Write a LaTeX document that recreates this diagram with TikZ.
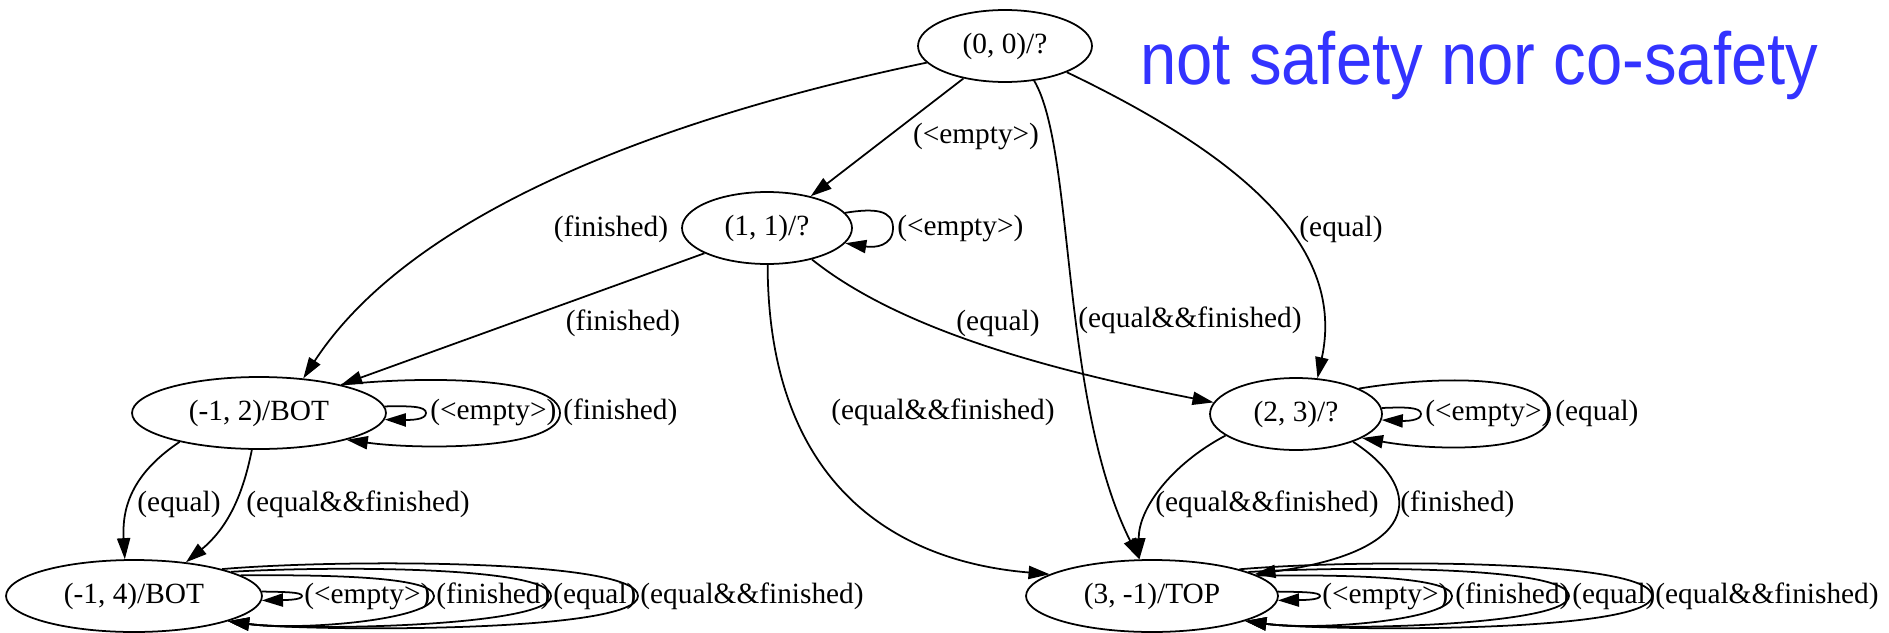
\documentclass[tikz,border=0pt]{standalone}
\usepackage{fontspec}
\setmainfont{Liberation Serif}
\newfontfamily\titlefont{Liberation Sans}
\usetikzlibrary{shapes.geometric,arrows.meta}
\definecolor{titleblue}{RGB}{51,51,255}
\newcommand\lblfont{\fontsize{16.7}{20}\selectfont}
\begin{document}
\begin{tikzpicture}[x=0.02cm,y=-0.02cm,
  state/.style={ellipse,draw,line width=1pt,inner sep=0pt,minimum height=1.44cm,font=\lblfont},
  edge/.style={line width=1pt,-{Triangle[length=12pt,width=7.5pt]}},
  lbl/.style={inner sep=0pt,font=\lblfont}]
\useasboundingbox (0,0) rectangle (1889,632);
% states
\node[state,minimum width=3.48cm] (n00) at (1005,46) {(0, 0)/?};
\node[state,minimum width=3.40cm] (n11) at (767,228) {(1, 1)/?};
\node[state,minimum width=5.08cm] (n12) at (259,413) {(-1, 2)/BOT};
\node[state,minimum width=3.44cm] (n23) at (1296,414) {(2, 3)/?};
\node[state,minimum width=5.12cm] (n14) at (134,596) {(-1, 4)/BOT};
\node[state,minimum width=5.04cm] (n31) at (1152,596) {(3, -1)/TOP};
% title
\node[anchor=base west,inner sep=0pt,text=titleblue,font=\titlefont\fontsize{42}{50}\selectfont] (title) at (1140,84) {\scalebox{0.884}[1]{not safety nor co-safety}};
% edges from (0,0)
\draw[edge] (n00.192) .. controls (700,110) and (420,200) .. (n12.38);
\node[lbl] (l1) at (611,229) {(finished)};
\draw[edge] (n00.218) -- (n11.36);
\node[lbl] (l2) at (976,136) {(<empty>)};
\draw[edge] (n00.310) .. controls (1075,150) and (1060,400) .. (n31.109);
\node[lbl,anchor=west] (l3) at (1078,320) {(equal\&\&finished)};
\draw[edge] (n00.337) .. controls (1250,160) and (1345,250) .. (n23.59);
\node[lbl] (l4) at (1341,229) {(equal)};
% edges from (1,1)
\draw[edge] (n11.11) .. controls (875,208) and (893,210) .. (893,228) .. controls (893,246) and (875,248) .. (n11.-11);
\node[lbl,anchor=west] (l5) at (897,228) {(<empty>)};
\draw[edge] (n11.202) -- (n12.19);
\node[lbl] (l6) at (623,323) {(finished)};
\draw[edge] (n11.325) .. controls (900,330) and (1050,370) .. (n23.172);
\node[lbl] (l7) at (998,323) {(equal)};
\draw[edge] (n11.271) .. controls (768,470) and (880,560) .. (n31.168);
\node[lbl] (l8) at (943,412) {(equal\&\&finished)};
% (-1,2)
\draw[edge] (n12.3) .. controls (410,406) and (426,406) .. (426,413) .. controls (426,420) and (410,420) .. (n12.-3);
\node[lbl,anchor=west] (l9) at (430,412) {(<empty>)};
\draw[edge] (n12.19) .. controls (420,376) and (560,376) .. (560,413) .. controls (560,450) and (420,450) .. (n12.-17);
\node[lbl,anchor=west] (l10) at (563,412) {(finished)};
\draw[edge] (n12.200) .. controls (130,475) and (122,510) .. (n14.104);
\node[lbl] (l11) at (179,504) {(equal)};
\draw[edge] (n12.259) .. controls (242,500) and (225,530) .. (n14.33);
\node[lbl,anchor=west] (l12) at (246,504) {(equal\&\&finished)};
% (2,3)
\draw[edge] (n23.4) .. controls (1405,407) and (1421,407) .. (1421,414) .. controls (1421,421) and (1405,421) .. (n23.-4);
\node[lbl,anchor=west] (l13) at (1425,413) {(<empty>)};
\draw[edge] (n23.22) .. controls (1440,375) and (1550,375) .. (1550,414) .. controls (1550,452) and (1440,452) .. (n23.-20);
\node[lbl,anchor=west] (l14) at (1555,413) {(equal)};
\draw[edge] (n23.197) .. controls (1170,465) and (1138,510) .. (n31.109);
\node[lbl] (l15) at (1267,504) {(equal\&\&finished)};
\draw[edge] (n23.334) .. controls (1420,485) and (1430,550) .. (n31.12);
\node[lbl,anchor=west] (l16) at (1400,504) {(finished)};
% (-1,4) loops
\draw[edge] (n14.2) .. controls (285,592) and (302,592) .. (302,596) .. controls (302,600) and (285,600) .. (n14.-2);
\draw[edge] (n14.11) .. controls (310,575) and (434,575) .. (434,596) .. controls (434,620) and (300,631) .. (n14.-15);
\draw[edge] (n14.14) .. controls (330,566) and (551,566) .. (551,596) .. controls (551,627) and (300,631) .. (n14.-15);
\draw[edge] (n14.17) .. controls (340,559) and (638,559) .. (638,596) .. controls (638,634) and (300,631) .. (n14.-15);
\node[lbl,anchor=west] (l17) at (304,596) {(<empty>)};
\node[lbl,anchor=west] (l18) at (436,596) {(finished)};
\node[lbl,anchor=west] (l19) at (553,596) {(equal)};
\node[lbl,anchor=west] (l20) at (640,596) {(equal\&\&finished)};
% (3,-1) loops
\draw[edge] (n31.2) .. controls (1303,592) and (1320,592) .. (1320,596) .. controls (1320,600) and (1303,600) .. (n31.-2);
\draw[edge] (n31.11) .. controls (1328,575) and (1452,575) .. (1452,596) .. controls (1452,620) and (1318,631) .. (n31.-15);
\draw[edge] (n31.14) .. controls (1348,566) and (1569,566) .. (1569,596) .. controls (1569,627) and (1318,631) .. (n31.-15);
\draw[edge] (n31.17) .. controls (1358,559) and (1652,559) .. (1652,596) .. controls (1652,634) and (1318,631) .. (n31.-15);
\node[lbl,anchor=west] (l21) at (1322,596) {(<empty>)};
\node[lbl,anchor=west] (l22) at (1455,596) {(finished)};
\node[lbl,anchor=west] (l23) at (1572,596) {(equal)};
\node[lbl,anchor=west] (l24) at (1655,596) {(equal\&\&finished)};
\end{tikzpicture}
\end{document}
